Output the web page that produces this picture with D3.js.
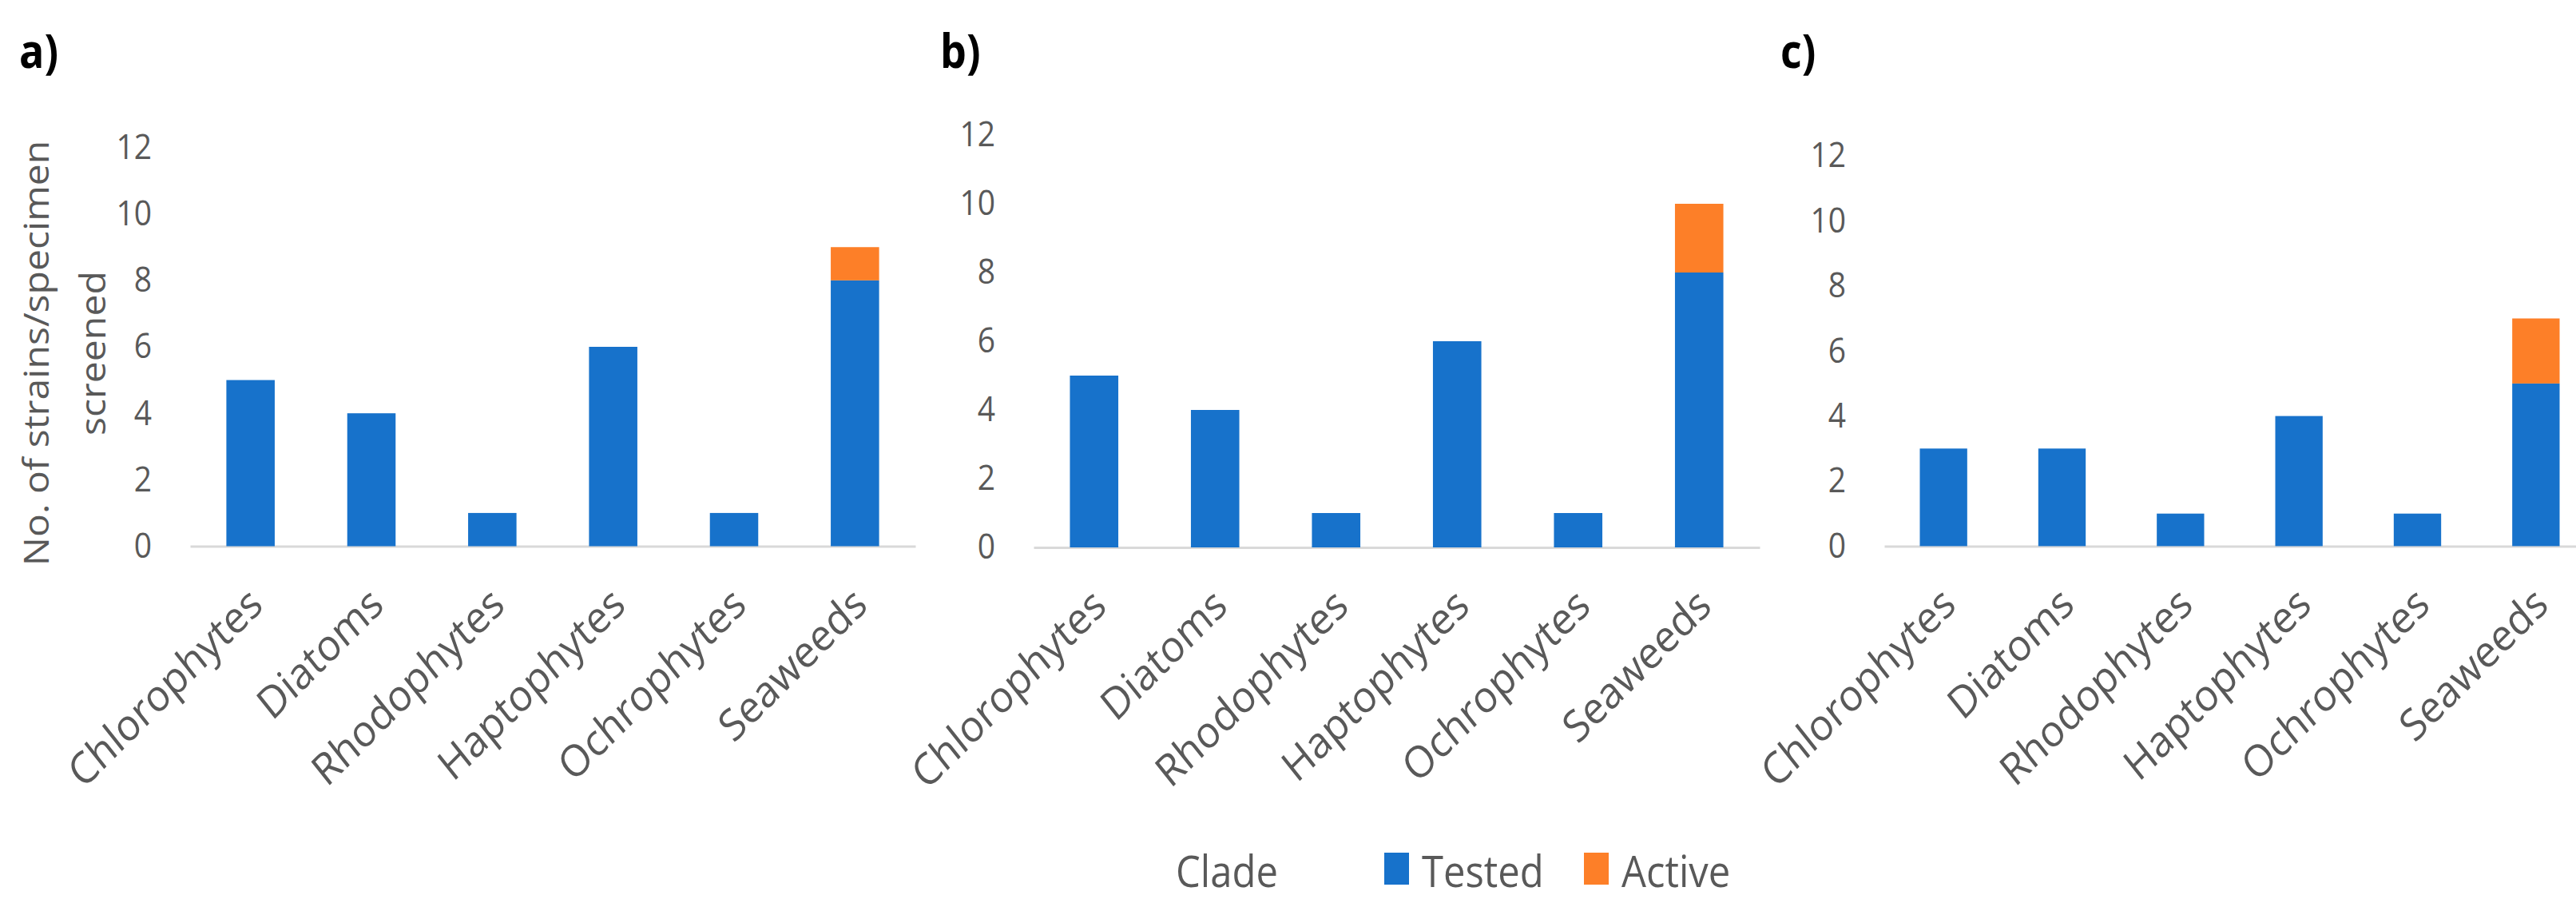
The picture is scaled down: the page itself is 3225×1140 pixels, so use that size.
<!DOCTYPE html>
<html>
<head>
<meta charset="utf-8">
<script src="https://cdn.jsdelivr.net/npm/d3@7"></script>
<style>
body { margin: 0; background: #fff; }
text { font-family: "Open Sans", sans-serif; fill: #595959; }
.panel-label { fill: #000; font-weight: bold; }
.axis path.domain { stroke: #d9d9d9; stroke-width: 3px; }
</style>
</head>
<body>
<script>

// data
var categories = ["Chlorophytes", "Diatoms", "Rhodophytes", "Haptophytes", "Ochrophytes", "Seaweeds"];
var testedA = [5, 4, 1, 6, 1, 8],
    activeA = [0, 0, 0, 0, 0, 1];
var testedB = [5, 4, 1, 6, 1, 8],
    activeB = [0, 0, 0, 0, 0, 2];
var testedC = [3, 3, 1, 4, 1, 5],
    activeC = [0, 0, 0, 0, 0, 2];
var yTicks = [0, 2, 4, 6, 8, 10, 12];
var seriesNames = ["Tested", "Active"];
var colors = ["#1772cb", "#fd7f28"];

var W = 3225, H = 1140,
    sy = 1.12; // the source figure is slightly stretched vertically

var svg = d3.select("body").append("svg")
    .attr("width", W)
    .attr("height", H);

var panels = [
  {label: "a)", tested: testedA, active: activeA, x0: 238,  x1: 1146, y0: 683.5, y12: 184.5, lx: 24},
  {label: "b)", tested: testedB, active: activeB, x0: 1294, x1: 2203, y0: 685,   y12: 169,   lx: 1177},
  {label: "c)", tested: testedC, active: activeC, x0: 2359, x1: 3249, y0: 683.4, y12: 195,   lx: 2229}
];

panels.forEach(function(p) {
  var rows = categories.map(function(c, i) {
    return {cat: c, Tested: p.tested[i], Active: p.active[i]};
  });

  var x = d3.scaleBand()
      .domain(categories)
      .range([p.x0, p.x1])
      .paddingInner(0.6)
      .paddingOuter(0.3);

  var y = d3.scaleLinear()
      .domain([0, 12])
      .range([p.y0, p.y12]);

  var layers = d3.stack().keys(seriesNames)(rows);

  // x axis line + rotated category labels
  var gx = svg.append("g")
      .attr("class", "axis")
      .attr("transform", "translate(0," + p.y0 + ")")
      .call(d3.axisBottom(x).tickSize(0).tickSizeOuter(0));
  gx.selectAll(".tick text")
      .attr("y", null)
      .attr("dy", null)
      .attr("text-anchor", "end")
      .style("font-size", "49px")
      .style("fill", "#595959")
      .attr("transform", "translate(18,77) scale(1," + sy + ") rotate(-41.8)");

  // y axis labels, no line
  var gy = svg.append("g")
      .attr("class", "axis")
      .attr("transform", "translate(" + p.x0 + ",0)")
      .call(d3.axisLeft(y).tickValues(yTicks).tickSize(0).tickPadding(48));
  gy.select(".domain").remove();
  gy.selectAll(".tick text")
      .style("font-size", "39px")
      .style("fill", "#595959")
      .attr("transform", "scale(1," + sy + ")");

  // stacked bars
  svg.append("g").selectAll("g")
      .data(layers)
    .enter().append("g")
      .attr("fill", function(d, i) { return colors[i]; })
    .selectAll("rect")
      .data(function(d) { return d.filter(function(s) { return s[1] > s[0]; }); })
    .enter().append("rect")
      .attr("x", function(d) { return x(d.data.cat); })
      .attr("y", function(d) { return y(d[1]); })
      .attr("width", x.bandwidth())
      .attr("height", function(d) { return y(d[0]) - y(d[1]); });

  svg.append("text")
      .attr("class", "panel-label")
      .attr("transform", "translate(" + p.lx + ",85) scale(1," + sy + ")")
      .style("font-size", "52px")
      .text(p.label);
});

// y axis title (panel a only)
var yTitle = ["No. of strains/specimen", "screened"];
svg.selectAll("text.ytitle")
    .data(yTitle)
  .enter().append("text")
    .attr("class", "ytitle")
    .attr("text-anchor", "middle")
    .style("font-size", "43px")
    .attr("transform", function(d, i) {
      return "translate(" + (61 + i * 71) + ",442) scale(1," + sy + ") rotate(-90)";
    })
    .text(function(d) { return d; });

// legend
var legend = svg.append("g");
legend.append("text")
    .attr("transform", "translate(1472,1110) scale(1," + sy + ")")
    .style("font-size", "49px")
    .text("Clade");

var legendX = [1733, 1983];
var items = legend.selectAll("g.item")
    .data(seriesNames)
  .enter().append("g")
    .attr("class", "item")
    .attr("transform", function(d, i) { return "translate(" + legendX[i] + ",0)"; });
items.append("rect")
    .attr("y", 1067)
    .attr("width", 31)
    .attr("height", 40)
    .attr("fill", function(d, i) { return colors[i]; });
items.append("text")
    .attr("transform", "translate(47,1110) scale(1," + sy + ")")
    .style("font-size", "49px")
    .text(function(d) { return d; });

</script>
</body>
</html>
